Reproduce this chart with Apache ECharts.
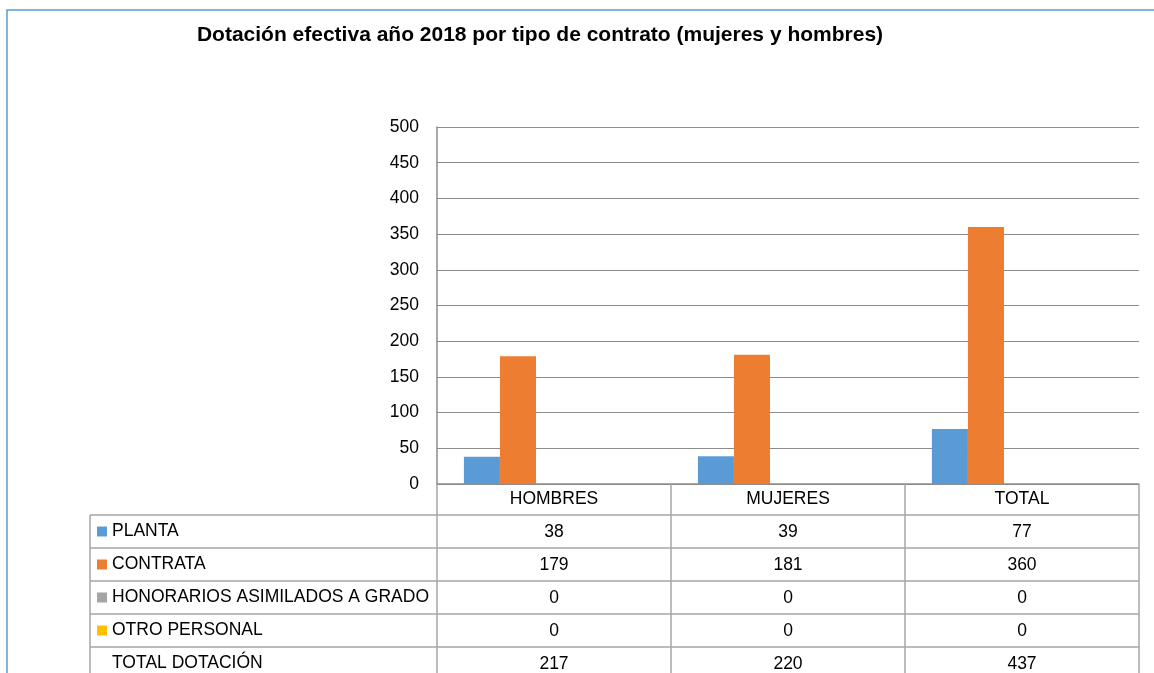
<!DOCTYPE html>
<html>
<head>
<meta charset="utf-8">
<script src="https://cdn.jsdelivr.net/npm/echarts@6/dist/echarts.min.js"></script>
<style>
  html, body { margin: 0; padding: 0; background: #fff; }
  #chart { width: 1154px; height: 673px; }
</style>
</head>
<body>
<div id="chart"></div>
<script>
const categories = ["HOMBRES", "MUJERES", "TOTAL"];
const planta = [38, 39, 77];
const contrata = [179, 181, 360];
const honorarios = [0, 0, 0];
const otroPersonal = [0, 0, 0];
const totalDotacion = [217, 220, 437];
const yTicks = [0, 500, 50]; // min, max, interval

const font = "Liberation Sans, Arial, sans-serif";
const gridGray = "#8c8c8c";
const tableGray = "#a6a6a6";

const chart = echarts.init(document.getElementById("chart"));

// horizontal lines of the data table
const rowLines = [515, 548, 581, 614, 647].map(y => ({
  type: "line",
  shape: { x1: 90, y1: y, x2: 1139, y2: y },
  style: { stroke: tableGray, lineWidth: 1.5 }
}));

const option = {
  animation: false,
  textStyle: { fontFamily: font },
  title: {
    text: "Dotación efectiva año 2018 por tipo de contrato (mujeres y hombres)",
    left: 535,
    top: 20,
    textAlign: "center",
    textStyle: { fontSize: 21, fontWeight: "bold", color: "#000", fontFamily: font }
  },
  legend: {
    orient: "vertical",
    left: 97,
    top: 515,
    height: 400,
    padding: 0,
    itemGap: 0,
    itemWidth: 10,
    itemHeight: 10,
    icon: "rect",
    selectedMode: false,
    textStyle: { fontSize: 17.5, lineHeight: 33, color: "#000", fontFamily: font }
  },
  grid: { left: 437, right: 15, top: 127, bottom: 189, outerBoundsMode: "none", containLabel: false },
  xAxis: {
    type: "category",
    data: categories,
    axisLine: { lineStyle: { color: gridGray, width: 1.5 } },
    axisTick: { show: true, length: 200, lineStyle: { color: tableGray, width: 1.5 } },
    axisLabel: {
      margin: -1,
      color: "#000",
      fontSize: 17.5,
      lineHeight: 33,
      verticalAlign: "top",
      fontFamily: font,
      formatter: (value) => {
        const i = categories.indexOf(value);
        return [value, planta[i], contrata[i], honorarios[i], otroPersonal[i], totalDotacion[i]].join("\n");
      }
    }
  },
  yAxis: {
    type: "value",
    min: yTicks[0],
    max: yTicks[1],
    interval: yTicks[2],
    axisLine: { show: true, lineStyle: { color: gridGray, width: 1.5 } },
    axisTick: { show: false },
    axisLabel: { margin: 18, color: "#000", fontSize: 17.5, fontFamily: font },
    splitLine: { lineStyle: { color: gridGray, width: 1 } }
  },
  series: [
    { name: "PLANTA", type: "bar", data: planta, barGap: 0, barCategoryGap: "23%", itemStyle: { color: "#5B9BD5" } },
    { name: "CONTRATA", type: "bar", data: contrata, itemStyle: { color: "#ED7D31" } },
    { name: "HONORARIOS ASIMILADOS A GRADO", type: "bar", data: honorarios, itemStyle: { color: "#A5A5A5" } },
    { name: "OTRO PERSONAL", type: "bar", data: otroPersonal, itemStyle: { color: "#FFC000" } },
    { name: "TOTAL DOTACIÓN", type: "bar", data: totalDotacion, itemStyle: { color: "rgba(0,0,0,0)" } }
  ],
  graphic: [
    {
      type: "polyline",
      shape: { points: [[7, 680], [7, 10], [1160, 10]] },
      style: { stroke: "#5B9BD5", lineWidth: 1.5, fill: null }
    },
    {
      type: "line",
      shape: { x1: 90, y1: 515, x2: 90, y2: 680 },
      style: { stroke: tableGray, lineWidth: 1.5 }
    },
    ...rowLines
  ]
};

chart.setOption(option);

window.addEventListener("resize", () => {
  chart.resize();
});
</script>
</body>
</html>
